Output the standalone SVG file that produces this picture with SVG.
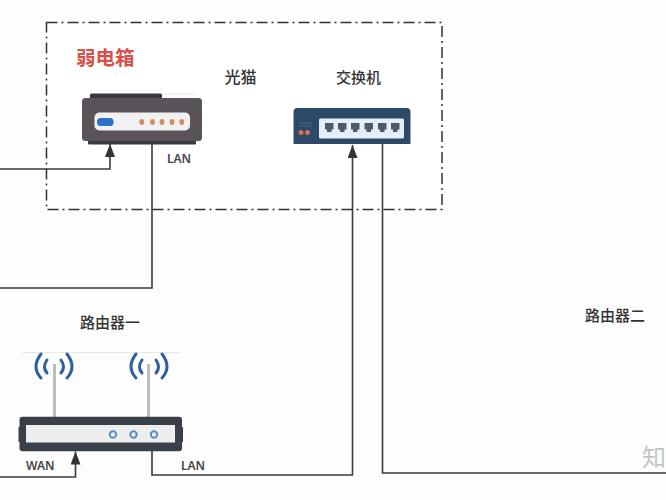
<svg xmlns="http://www.w3.org/2000/svg" width="666" height="500" viewBox="0 0 666 500">
<style>
text{font-family:"Noto Sans CJK SC","Liberation Sans",sans-serif;font-weight:500;fill:#333}
.t{font-size:15px}
.l{font-size:12px;font-family:"Noto Sans","Noto Sans CJK SC",sans-serif;font-weight:600;fill:#444}
.c{fill:none;stroke:#3a3a3a;stroke-width:1.600}
.w{fill:none;stroke:#2f5f9e;stroke-width:3;stroke-linecap:round}
.a{fill:#bdbdbd}
.p{fill:#4e5a68}
.d{fill:#d18a62}
.r{fill:none;stroke:#5b8fc4;stroke-width:2}
</style>
<defs>
<marker id="arrow" markerUnits="userSpaceOnUse" markerWidth="14" markerHeight="10" refX="13" refY="5" orient="auto" viewBox="0 0 14 10"><path d="M0 0L13 5L0 10Z" fill="#333"/></marker>
</defs>
<rect width="666" height="500" fill="#fdfdfd"/>
<g id="box-weak"><rect x="46.500" y="22.500" width="395.500" height="187" fill="#fff" stroke="#333" stroke-width="1.500" stroke-dasharray="11 4 2 4"/>
<text x="76" y="65" style="fill:#d8504a;font-weight:700;font-size:19.500px">弱电箱</text></g>
<g id="modem">
<rect x="90" y="93.500" width="72" height="6" rx="1.500" fill="#3a3840"/>
<path d="M162 94H194" stroke="#e6e6e6" fill="none"/>
<rect x="88" y="139" width="108" height="5.500" rx="1" fill="#3a3840"/>
<rect x="82" y="98" width="120" height="43" rx="3.500" fill="#5a5359"/>
<rect x="94.500" y="112.500" width="95.500" height="18" rx="5" fill="#f1f1f1"/>
<rect x="97" y="118" width="16.500" height="8" rx="3.500" fill="#2f70c8"/>
<ellipse class="d" cx="141.700" cy="122" rx="2.400" ry="3"/><ellipse class="d" cx="152.500" cy="122" rx="2.400" ry="3"/><ellipse class="d" cx="162" cy="122" rx="2.400" ry="3"/><ellipse class="d" cx="172" cy="122" rx="2.400" ry="3"/><ellipse class="d" cx="181.700" cy="122" rx="2.400" ry="3"/>
<text x="224.500" y="83" style="font-size:16px">光猫</text>
<text class="l" x="167" y="163">LAN</text>
</g>
<g id="switch">
<path d="M293.500 144V112q0-4 4-4H406.500q4 0 4 4V144Z" fill="#2c4a68"/>
<rect x="319" y="118.500" width="85" height="20" rx="1.500" fill="#e4eef8"/>
<path d="M299 123H312M299 126H312" stroke="#4a6480" stroke-width="1"/>
<circle cx="301" cy="132.500" r="2.500" fill="#d8705c"/><circle cx="307.500" cy="132.500" r="2.500" fill="#d8705c"/>
<path class="p" d="M325 123H333.500V129.500H331.500V132H327V129.500H325Z"/>
<path class="p" d="M338 123H346.500V129.500H344.500V132H340V129.500H338Z"/>
<path class="p" d="M351 123H359.500V129.500H357.500V132H353V129.500H351Z"/>
<path class="p" d="M364.500 123H373V129.500H371V132H366.500V129.500H364.500Z"/>
<path class="p" d="M378 123H386.500V129.500H384.500V132H380V129.500H378Z"/>
<path class="p" d="M391 123H399.500V129.500H397.500V132H393V129.500H391Z"/>
<text class="t" x="336" y="83">交换机</text>
</g>
<g id="router1">
<text class="t" x="80" y="328">路由器一</text>
<path d="M22 352.500H180" stroke="#e8e8e8" fill="none"/>
<rect class="a" x="53" y="364" width="3" height="54"/><rect class="a" x="147" y="364" width="3" height="54"/>
<path class="w" d="M41 354Q31 367 41 378M47 360Q42 367 47 373M67 354Q77 367 67 378M61 360Q66 367 61 373"/>
<path class="w" d="M136 354Q126 367 136 378M142 360Q137 367 142 373M162 354Q172 367 162 378M156 360Q161 367 156 373"/>
<rect x="18.500" y="427" width="4" height="15" fill="#3a4048"/><rect x="179" y="427" width="4" height="15" fill="#3a4048"/>
<rect x="19.500" y="416.700" width="162.500" height="34.500" rx="3" fill="#3a4048"/>
<rect x="26" y="425" width="149" height="17.500" fill="#eeeeee"/>
<circle class="r" cx="113" cy="434.500" r="3.200"/><circle class="r" cx="133.500" cy="434.500" r="3.200"/><circle class="r" cx="154" cy="434.500" r="3.200"/>
<text class="l" x="26" y="470">WAN</text>
<text class="l" x="181" y="470">LAN</text>
</g>
<g id="router2"><text class="t" x="585" y="321">路由器二</text></g>
<g id="connectors">
<path class="c" d="M0 169H110V144" marker-end="url(#arrow)"/>
<path class="c" d="M152 141V288H0"/>
<path class="c" d="M0 477H75.500V451.500" marker-end="url(#arrow)"/>
<path class="c" d="M152 451V475H352.500V145" marker-end="url(#arrow)"/>
<path class="c" d="M382.500 144V473H666"/>
</g>
<text x="642" y="466" style="font-size:24px;fill:#c4c4c4;font-weight:400">知</text>
</svg>
